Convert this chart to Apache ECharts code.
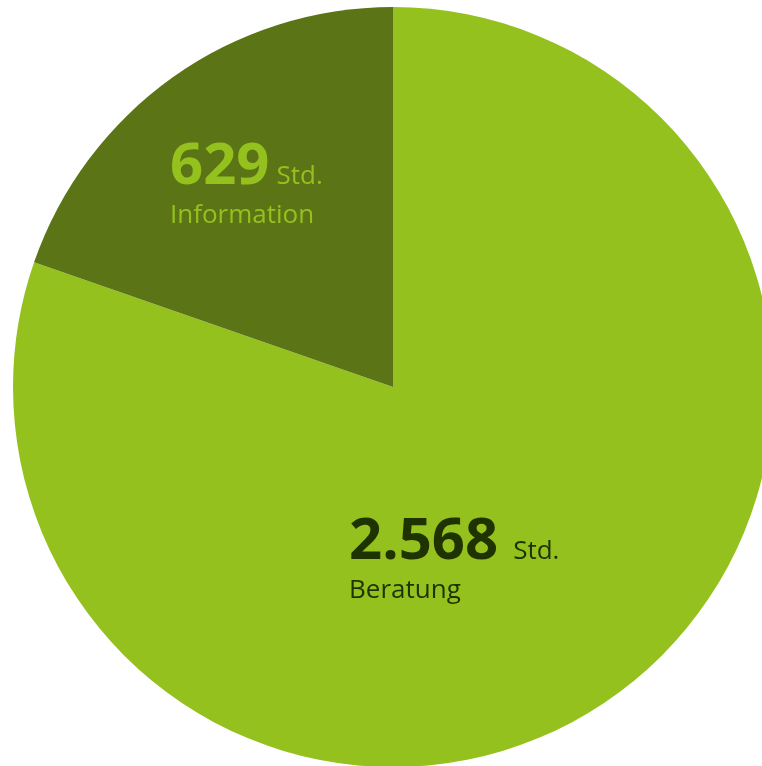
<!DOCTYPE html>
<html>
<head>
<meta charset="utf-8">
<script src="https://cdn.jsdelivr.net/npm/echarts@6/dist/echarts.min.js"></script>
<style>
  html, body { margin: 0; padding: 0; background: #fff; }
  #chart { width: 762px; height: 766px; }
</style>
</head>
<body>
<div id="chart"></div>
<script>
var categories = ["Beratung", "Information"];
var hours = [2568, 629];
var hourLabels = ["2.568", "629"];
var unitLabels = ["Std.", "Std."];

var sliceColors = ["#95c11f", "#5b7415"];
var textColors = ["#1f3300", "#95c11f"];
// where each label block starts (top-left), plus gap before "Std."
var labelSpots = [[349, 509], [170, 134]];
var unitGaps = [15, 7];

var chart = echarts.init(document.getElementById("chart"));

var data = categories.map(function (name, i) {
  return {
    name: name,
    value: hours[i],
    itemStyle: { color: sliceColors[i] },
    label: {
      formatter: "{v|" + hourLabels[i] + "}{u|" + unitLabels[i] + "}\n{n|" + name + "}",
      rich: {
        v: { fontSize: 58, fontWeight: "bold", color: textColors[i], lineHeight: 62, fontFamily: "Open Sans", verticalAlign: "bottom" },
        u: { fontSize: 26, color: textColors[i], lineHeight: 62, fontFamily: "Open Sans", verticalAlign: "bottom", padding: [0, 0, 6, unitGaps[i]] },
        n: { fontSize: 26, color: textColors[i], lineHeight: 39, fontFamily: "Open Sans" }
      }
    }
  };
});

chart.setOption({
  animation: false,
  series: [
    {
      type: "pie",
      center: [393, 387],
      radius: 380,
      startAngle: 90,
      clockwise: true,
      silent: true,
      label: { show: true, position: "inside", fontFamily: "Open Sans" },
      labelLine: { show: false },
      labelLayout: function (params) {
        var p = labelSpots[params.dataIndex];
        return { x: p[0], y: p[1], align: "left", verticalAlign: "top" };
      },
      data: data
    }
  ]
});
</script>
</body>
</html>
